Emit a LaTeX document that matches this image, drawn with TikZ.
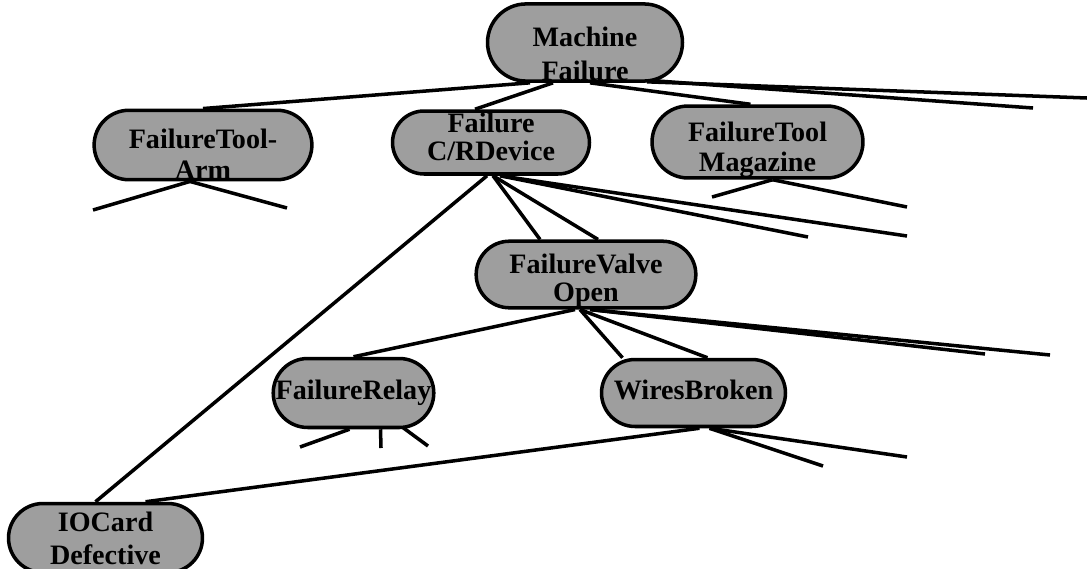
\documentclass[tikz,border=0pt]{standalone}
\usepackage{fontspec}
\setmainfont{Liberation Serif}
\usetikzlibrary{shapes.misc,calc}
\newcommand{\padtop}[1]{\vrule width0pt height#1 depth0pt}
\newcommand{\padbot}[1]{\vrule width0pt height0pt depth#1}
\tikzset{
	fault/.style={rounded rectangle, draw, line width=2pt, fill=black!38,
		inner sep=0pt, align=center, font=\fontsize{16}{18}\selectfont\bfseries},
	branch/.style={line width=2pt}
}
\begin{document}
\begin{tikzpicture}[x=0.02cm, y=-0.02cm]
	\useasboundingbox (0,0) rectangle (1087,568);
	% fault nodes
	\node[fault, minimum width=3.90cm, minimum height=1.44cm] (mf) at (585,42.5) {\padtop{24.4pt}Machine\\[1.3pt]Failure};
	\node[fault, minimum width=3.94cm, minimum height=1.34cm] (arm) at (203,145) {\padtop{21.5pt}FailureTool-\\Arm};
	\node[fault, minimum width=3.94cm, minimum height=1.26cm] (crd) at (491,142.5) {Failure\\[-2pt]C/RDevice\padbot{6.9pt}};
	\node[fault, minimum width=3.96cm, minimum height=1.34cm] (mag) at (757.5,142) {\padtop{20.4pt}FailureTool\\[-1pt]Magazine};
	\node[fault, minimum width=3.30cm, minimum height=1.32cm] (valve) at (586,274.5) {\padtop{18.1pt}FailureValve\\[-1.6pt]Open};
	\node[fault, minimum width=3.08cm, minimum height=1.38cm] (relay) at (353.5,393) {FailureRelay};
	\node[fault, minimum width=3.68cm, minimum height=1.34cm] (wires) at (693.5,393) {WiresBroken\padbot{4pt}};
	\node[fault, minimum width=3.88cm, minimum height=1.38cm] (iocard) at (105.5,538) {IOCard\\[0.7pt]Defective};
	% loose ends
	\coordinate (mf-e1) at (1087,98);
	\coordinate (mf-e2) at (1033,108);
	\coordinate (arm-e1) at (93,210);
	\coordinate (arm-e2) at (287,208);
	\coordinate (crd-e1) at (808,237);
	\coordinate (crd-e2) at (907,236);
	\coordinate (mag-e1) at (712,197);
	\coordinate (mag-e2) at (907,207);
	\coordinate (valve-e1) at (985,354);
	\coordinate (valve-e2) at (1050,355);
	\coordinate (relay-e1) at (300,447);
	\coordinate (relay-e2) at (381,448);
	\coordinate (relay-e3) at (428,446);
	\coordinate (wires-e1) at (823,466);
	\coordinate (wires-e2) at (907,457);
	% branches
	\draw[branch] ($(mf.south)+(-55,0)$) -- (arm.north);
	\draw[branch] ($(mf.south)+(-32,0)$) -- ($(crd.north)+(-16,0)$);
	\draw[branch] ($(mf.south)+(5,0)$) -- ($(mag.north)+(-7,0)$);
	\draw[branch] ($(mf.south)+(62,-1)$) -- (mf-e1);
	\draw[branch] ($(mf.south)+(70,-2)$) -- (mf-e2);
	\draw[branch] ($(arm.south)+(-13,0)$) -- (arm-e1);
	\draw[branch] ($(arm.south)+(-13,0)$) -- (arm-e2);
	\draw[branch] ($(crd.south)+(-4,0)$) -- ($(iocard.north)+(-10,0)$);
	\draw[branch] ($(crd.south)+(2,0)$) -- ($(valve.north)+(-46,0)$);
	\draw[branch] ($(crd.south)+(2,0)$) -- ($(valve.north)+(12,0)$);
	\draw[branch] ($(crd.south)+(9,0)$) -- (crd-e1);
	\draw[branch] ($(crd.south)+(9,0)$) -- (crd-e2);
	\draw[branch] ($(mag.south)+(15,0)$) -- (mag-e1);
	\draw[branch] ($(mag.south)+(15,0)$) -- (mag-e2);
	\draw[branch] ($(valve.south)+(-11,0)$) -- (relay.north);
	\draw[branch] ($(valve.south)+(-6,0)$) -- ($(wires.north)+(-71,0)$);
	\draw[branch] ($(valve.south)+(-6,0)$) -- ($(wires.north)+(14,0)$);
	\draw[branch] ($(valve.south)+(4,0)$) -- (valve-e1);
	\draw[branch] ($(valve.south)+(4,0)$) -- (valve-e2);
	\draw[branch] ($(relay.south)+(-4,0)$) -- (relay-e1);
	\draw[branch] ($(relay.south)+(27,0)$) -- (relay-e2);
	\draw[branch] ($(relay.south)+(49,-2)$) -- (relay-e3);
	\draw[branch] ($(wires.south)+(6,0)$) -- ($(iocard.north)+(40,0)$);
	\draw[branch] ($(wires.south)+(16,0)$) -- (wires-e1);
	\draw[branch] ($(wires.south)+(16,0)$) -- (wires-e2);
\end{tikzpicture}
\end{document}
